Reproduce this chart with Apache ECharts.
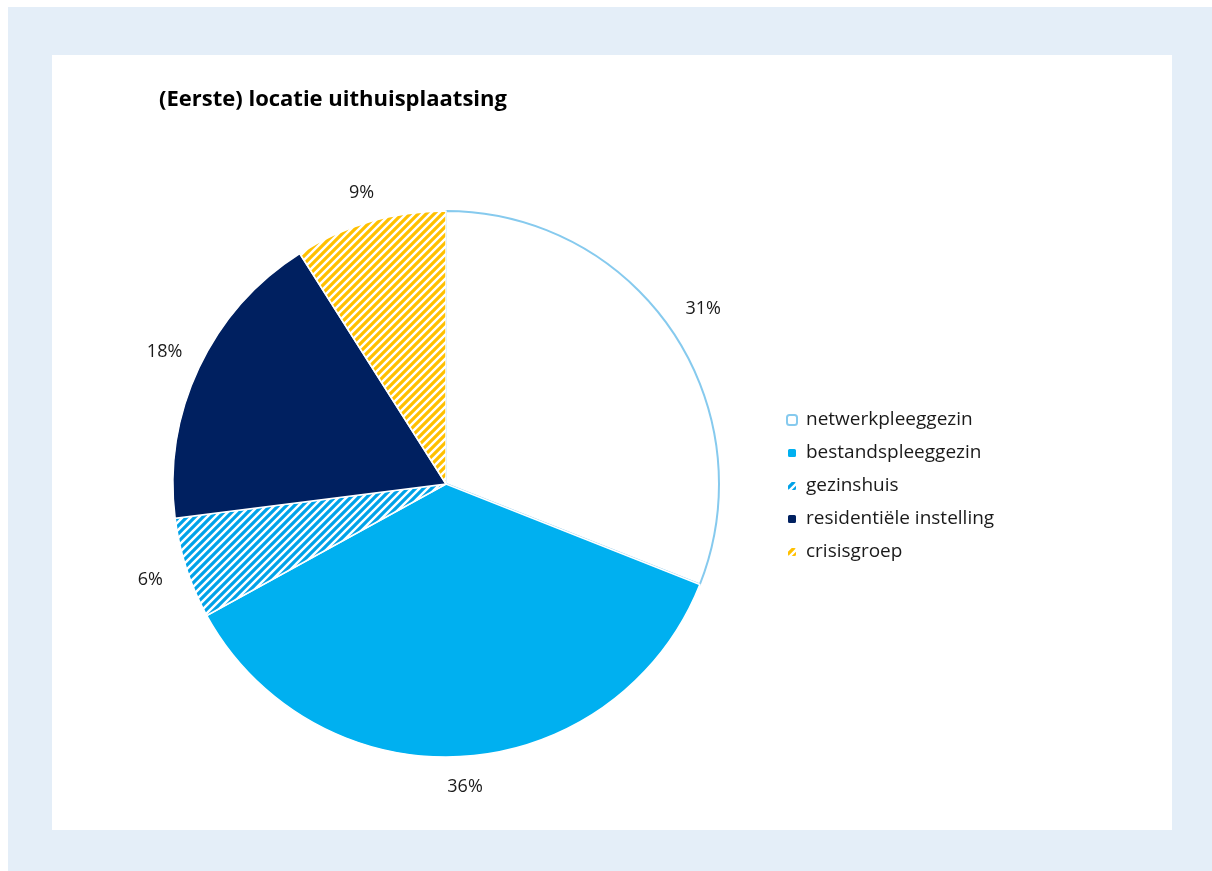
<!DOCTYPE html>
<html>
<head>
<meta charset="utf-8">
<script src="https://cdn.jsdelivr.net/npm/echarts@6/dist/echarts.min.js"></script>
<style>
html,body{margin:0;padding:0;background:#fff;}
#chart{width:1212px;height:871px;}
</style>
</head>
<body>
<div id="chart"></div>
<script>
const titleText = '(Eerste) locatie uithuisplaatsing';
const categories = ['netwerkpleeggezin','bestandspleeggezin','gezinshuis','residentiële instelling','crisisgroep'];
const values = [31, 36, 6, 18, 9];
// which labels sit slightly further out from the pie (as in the reference)
const farLabel = [true, false, true, true, false];

function stripes(color){
  const c = document.createElement('canvas');
  c.width = 8; c.height = 8;
  const g = c.getContext('2d');
  g.fillStyle = '#ffffff';
  g.fillRect(0,0,8,8);
  g.strokeStyle = color;
  g.lineWidth = 3.2;
  g.beginPath();
  g.moveTo(-2,10); g.lineTo(10,-2);
  g.moveTo(-2,2); g.lineTo(2,-2);
  g.moveTo(6,10); g.lineTo(10,6);
  g.stroke();
  return c;
}

const styles = [
  {color:'#ffffff', borderColor:'#86caee', borderWidth:2},
  {color:'#00b0f0', borderColor:'#ffffff', borderWidth:1.5},
  {color:{image:stripes('#00a2e8'), repeat:'repeat'}, borderColor:'#ffffff', borderWidth:1.5},
  {color:'#002060', borderColor:'#ffffff', borderWidth:1.5},
  {color:{image:stripes('#ffc000'), repeat:'repeat'}, borderColor:'#ffffff', borderWidth:1.5}
];

const pieData = categories.map((n,i)=>({name:n, value:values[i], itemStyle:styles[i]}));
const labelDataNear = categories.map((n,i)=>({name:n, value:values[i], label:{show:!farLabel[i]}}));
const labelDataFar = categories.map((n,i)=>({name:n, value:values[i], label:{show:farLabel[i]}}));

const labelStyle = {position:'inside', formatter:'{c}%', fontFamily:'Open Sans', fontSize:18, color:'#1a1a1a'};

const chart = echarts.init(document.getElementById('chart'), null, {renderer:'canvas'});
chart.setOption({
  animation:false,
  graphic:[
    {type:'rect', z:-10, shape:{x:8,y:7,width:1204,height:864}, style:{fill:'#e4eef8'}},
    {type:'rect', z:-9, shape:{x:52,y:55,width:1120,height:775}, style:{fill:'#ffffff'}}
  ],
  title:{
    text:titleText, left:154, top:84,
    textStyle:{fontFamily:'Open Sans', fontWeight:'bold', fontSize:22, color:'#000000'}
  },
  legend:{
    orient:'vertical', left:781, top:405,
    itemWidth:10, itemHeight:10, itemGap:13,
    data:categories,
    textStyle:{fontFamily:'Open Sans', fontSize:19, color:'#1a1a1a', lineHeight:20, padding:[0,0,0,4]}
  },
  series:[
    {
      type:'pie', center:[446,484], radius:273, startAngle:90, clockwise:true,
      label:{show:false}, labelLine:{show:false},
      emphasis:{disabled:true},
      data:pieData
    },
    {
      type:'pie', center:[446,484], radius:[286,314], startAngle:90, clockwise:true,
      silent:true, legendHoverLink:false,
      itemStyle:{color:'rgba(0,0,0,0)'},
      label:labelStyle, labelLine:{show:false},
      emphasis:{disabled:true},
      data:labelDataNear
    },
    {
      type:'pie', center:[446,484], radius:[294,322], startAngle:90, clockwise:true,
      silent:true, legendHoverLink:false,
      itemStyle:{color:'rgba(0,0,0,0)'},
      label:labelStyle, labelLine:{show:false},
      emphasis:{disabled:true},
      data:labelDataFar
    }
  ]
});
</script>
</body>
</html>
